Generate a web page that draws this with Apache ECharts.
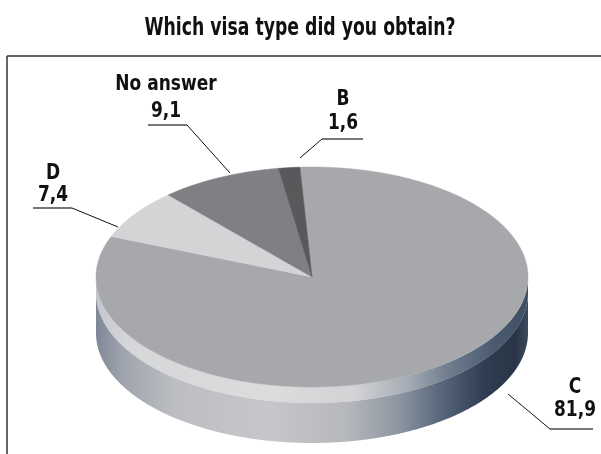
<!DOCTYPE html>
<html>
<head>
<meta charset="utf-8">
<script src="https://cdn.jsdelivr.net/npm/echarts@6/dist/echarts.min.js"></script>
<style>
  html, body { margin: 0; padding: 0; background: #fff; }
  #chart { width: 601px; height: 454px; }
</style>
</head>
<body>
<div id="chart"></div>
<script>
// Survey answers (percent), in clockwise order from 12 o'clock
const categories = ['C', 'D', 'No answer', 'B'];
const shares = [81.9, 7.4, 9.1, 1.6];
const shareLabels = ['81,9', '7,4', '9,1', '1,6'];
const chartTitle = 'Which visa type did you obtain?';

// Slice colours for the top face
const sliceColors = ['#a7a8ab', '#d3d4d6', '#7f8084', '#58595b'];

// Disc geometry (pixels)
const disc = { cx: 312, cy: 277, rx: 216, ry: 110, depth: 56, bevel: 16, startDeg: -3.2 };

// Label placement: text centre, underline span, leader end
const labelLayout = {
  'C':         { x: 575, y1: 387, y2: 410, ul: [550, 593, 429], from: 'left',  to: [508, 394] },
  'D':         { x: 53,  y1: 173, y2: 195, ul: [33, 72, 208],   from: 'right', to: [118, 227] },
  'No answer': { x: 166, y1: 84,  y2: 111, ul: [148, 187, 125], from: 'right', to: [230, 173] },
  'B':         { x: 343, y1: 99,  y2: 123, ul: [322, 363, 139], from: 'left',  to: [300, 158] }
};

const FONT = '"DejaVu Sans Condensed", "Liberation Sans Narrow", sans-serif';

const total = shares.reduce((a, b) => a + b, 0);
const sliceAngles = [];
let acc = disc.startDeg;
shares.forEach(v => {
  const span = v / total * 360;
  sliceAngles.push([acc, acc + span]);
  acc += span;
});

function pt(deg, dz) {
  const r = deg * Math.PI / 180;
  return [disc.cx + disc.rx * Math.sin(r), disc.cy - disc.ry * Math.cos(r) + dz];
}
function arc(a0, a1, dz) {
  const pts = [];
  const n = Math.max(2, Math.ceil(Math.abs(a1 - a0) / 0.5));
  for (let i = 0; i <= n; i++) pts.push(pt(a0 + (a1 - a0) * i / n, dz));
  return pts;
}
// front-facing part of an angular range: the half where the rim is seen (90..270 deg)
function frontRanges(a0, a1) {
  const out = [];
  for (let k = -1; k <= 1; k++) {
    const lo = Math.max(a0, 90 + 360 * k), hi = Math.min(a1, 270 + 360 * k);
    if (hi > lo) out.push([lo, hi]);
  }
  return out;
}

function hGrad(stops) {
  return {
    type: 'linear', global: true,
    x: disc.cx - disc.rx, y: 0, x2: disc.cx + disc.rx, y2: 0,
    colorStops: stops.map(s => ({ offset: s[0], color: s[1] }))
  };
}
const bevelFill = hGrad([[0, '#c4c6cb'], [0.08, '#d6d7d9'], [0.4, '#dcdcdd'], [0.6, '#d2d3d5'],
  [0.72, '#a6acb5'], [0.82, '#6d7b8c'], [0.92, '#4a5b70'], [1, '#3f4f64']]);
const wallFill = hGrad([[0, '#7f8796'], [0.06, '#9ea3ad'], [0.18, '#bcbec2'], [0.4, '#c6c7c9'],
  [0.58, '#b6b8bc'], [0.7, '#8e96a2'], [0.8, '#56667b'], [0.9, '#2f3d52'], [0.97, '#2a3446'], [1, '#3b4a5e']]);

function renderSide(params, api) {
  const [a0, a1] = sliceAngles[params.dataIndex];
  const children = [];
  frontRanges(a0, a1).forEach(([lo, hi]) => {
    const topArc = arc(lo, hi, 0);
    const midArc = arc(lo, hi, disc.bevel);
    const botArc = arc(lo, hi, disc.depth);
    children.push({
      type: 'polygon',
      shape: { points: topArc.concat(midArc.slice().reverse()) },
      style: { fill: bevelFill }
    });
    children.push({
      type: 'polygon',
      shape: { points: midArc.concat(botArc.slice().reverse()) },
      style: { fill: wallFill }
    });
  });
  return { type: 'group', children };
}

function renderTop(params, api) {
  const [a0, a1] = sliceAngles[params.dataIndex];
  const pts = [[disc.cx, disc.cy]].concat(arc(a0, a1, 0));
  return {
    type: 'polygon',
    shape: { points: pts },
    style: { fill: sliceColors[params.dataIndex], stroke: sliceColors[params.dataIndex], lineWidth: 0.5 }
  };
}

// condensed bold text: a narrow face, squeezed a little more horizontally
function narrowText(text, x, y, size, squeeze) {
  return {
    type: 'text', x: x, y: y, scaleX: squeeze,
    style: { text: text, x: 0, y: 0, fontSize: size, fontWeight: 'bold', fontFamily: FONT,
             fill: '#111', align: 'center', verticalAlign: 'middle' }
  };
}

function renderLabel(params, api) {
  const name = categories[params.dataIndex];
  const L = labelLayout[name];
  const start = L.from === 'left' ? L.ul[0] : L.ul[1];
  return {
    type: 'group',
    children: [
      narrowText(name, L.x, L.y1, 22, 0.86),
      narrowText(shareLabels[params.dataIndex], L.x, L.y2, 22, 0.86),
      { type: 'line', shape: { x1: L.ul[0], y1: L.ul[2], x2: L.ul[1], y2: L.ul[2] }, style: { stroke: '#777', lineWidth: 2 } },
      { type: 'line', shape: { x1: start, y1: L.ul[2], x2: L.to[0], y2: L.to[1] }, style: { stroke: '#111', lineWidth: 1 } }
    ]
  };
}

const chart = echarts.init(document.getElementById('chart'), null, { renderer: 'canvas' });
chart.setOption({
  animation: false,
  backgroundColor: '#fff',
  graphic: [
    narrowText(chartTitle, 300, 29, 24, 0.8),
    { type: 'line', shape: { x1: 7, y1: 56, x2: 601, y2: 56 }, style: { stroke: '#333', lineWidth: 1.5 } },
    { type: 'line', shape: { x1: 7, y1: 56, x2: 7, y2: 454 }, style: { stroke: '#333', lineWidth: 1.5 } }
  ],
  series: [
    { type: 'custom', coordinateSystem: 'none', renderItem: renderSide, data: shares, z: 1 },
    { type: 'custom', coordinateSystem: 'none', renderItem: renderTop, data: shares, z: 2 },
    { type: 'custom', coordinateSystem: 'none', renderItem: renderLabel, data: shares, z: 3 }
  ]
});
</script>
</body>
</html>
